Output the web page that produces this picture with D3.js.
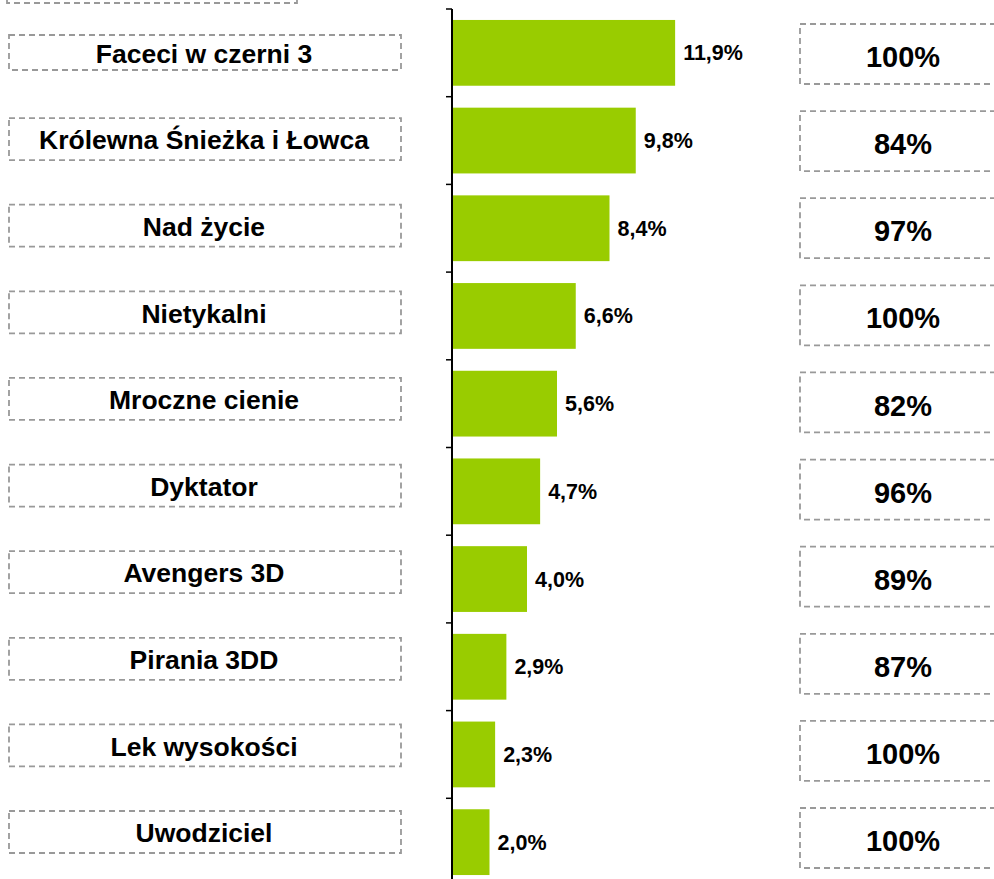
<!DOCTYPE html>
<html>
<head>
<meta charset="utf-8">
<script src="https://cdn.jsdelivr.net/npm/d3@7"></script>
<style>
  html, body { margin: 0; padding: 0; background: #fff; }
  svg { display: block; font-family: "Liberation Sans", Arial, sans-serif; }
</style>
</head>
<body>
<div id="chart"></div>
<script>
const categories = [
  "Faceci w czerni 3",
  "Królewna Śnieżka i Łowca",
  "Nad życie",
  "Nietykalni",
  "Mroczne cienie",
  "Dyktator",
  "Avengers 3D",
  "Pirania 3DD",
  "Lek wysokości",
  "Uwodziciel"
];
const shareValues = [11.9, 9.8, 8.4, 6.6, 5.6, 4.7, 4.0, 2.9, 2.3, 2.0];
const rightValues = [100, 84, 97, 100, 82, 96, 89, 87, 100, 100];

const W = 994, H = 879;
const svg = d3.select("#chart").append("svg").attr("width", W).attr("height", H);

const y = d3.scaleBand().domain(categories).range([9, 886]).paddingInner(0.25).paddingOuter(0.125);
const x = d3.scaleLinear().domain([0, 12]).range([452, 452 + 12 * 18.75]);
const yLabel = d3.scalePoint().domain(categories).range([52.5, 832]);
const yRight = d3.scalePoint().domain(categories).range([54, 838]);

const fmt = v => d3.format(".1f")(v).replace(".", ",") + "%";
const dash = { stroke: "#999999", width: 1.8, array: "6,4" };

// partial header box at top
svg.append("rect").attr("x", 7).attr("y", -40).attr("width", 290).attr("height", 43)
  .attr("fill", "none").attr("stroke", dash.stroke).attr("stroke-width", dash.width).attr("stroke-dasharray", dash.array);

// bars
svg.selectAll("rect.bar").data(categories).join("rect")
  .attr("class", "bar")
  .attr("x", x(0))
  .attr("y", d => y(d))
  .attr("width", (d, i) => x(shareValues[i]) - x(0))
  .attr("height", y.bandwidth())
  .attr("fill", "#99cc00");

// value labels
svg.selectAll("text.val").data(categories).join("text")
  .attr("class", "val")
  .attr("x", (d, i) => x(shareValues[i]) + 8)
  .attr("y", d => y(d) + y.bandwidth() / 2)
  .attr("dy", "0.35em")
  .attr("font-size", 21.5)
  .attr("font-weight", "bold")
  .attr("fill", "#000")
  .text((d, i) => fmt(shareValues[i]));

// axis line + ticks between categories
const step = y.step();
const tickYs = categories.map(d => y(d) - step * 0.125);
tickYs.push(y(categories[categories.length - 1]) + y.bandwidth() + step * 0.125);
svg.append("line").attr("x1", 452).attr("x2", 452).attr("y1", tickYs[0]).attr("y2", H + 10)
  .attr("stroke", "#000").attr("stroke-width", 2);
svg.selectAll("line.tick").data(tickYs).join("line")
  .attr("class", "tick")
  .attr("x1", 446).attr("x2", 452)
  .attr("y1", d => d).attr("y2", d => d)
  .attr("stroke", "#000").attr("stroke-width", 1.5);

// left category boxes
const lg = svg.selectAll("g.lab").data(categories).join("g").attr("class", "lab");
lg.append("rect")
  .attr("x", 9).attr("width", 392)
  .attr("y", (d, i) => yLabel(d) - (i === 0 ? 17.5 : 21))
  .attr("height", (d, i) => i === 0 ? 35 : 42)
  .attr("fill", "none").attr("stroke", dash.stroke).attr("stroke-width", dash.width).attr("stroke-dasharray", dash.array);
lg.append("text")
  .attr("x", 204)
  .attr("y", d => yLabel(d) + 1)
  .attr("dy", "0.35em")
  .attr("text-anchor", "middle")
  .attr("font-size", 26.5)
  .attr("font-weight", "bold")
  .attr("fill", "#000")
  .text(d => d);

// right boxes
const rg = svg.selectAll("g.rb").data(categories).join("g").attr("class", "rb");
rg.append("rect")
  .attr("x", 800).attr("width", 240)
  .attr("y", d => yRight(d) - 30)
  .attr("height", 60)
  .attr("fill", "none").attr("stroke", dash.stroke).attr("stroke-width", dash.width).attr("stroke-dasharray", dash.array);
rg.append("text")
  .attr("x", 903)
  .attr("y", d => yRight(d) + 3)
  .attr("dy", "0.35em")
  .attr("text-anchor", "middle")
  .attr("font-size", 29)
  .attr("font-weight", "bold")
  .attr("fill", "#000")
  .text((d, i) => rightValues[i] + "%");
</script>
</body>
</html>
